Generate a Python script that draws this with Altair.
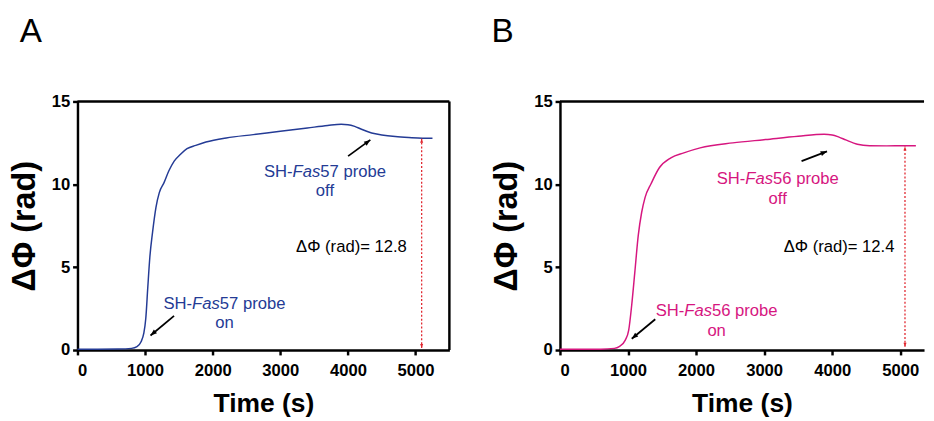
import altair as alt
import pandas as pd
import math

# ---------------- data ----------------
A_time = [0, 300, 600, 800, 880, 940, 980, 1010, 1040, 1070, 1110, 1160, 1210, 1280, 1350,
          1430, 1520, 1620, 1750, 1900, 2200, 2600, 3000, 3400, 3700, 3900, 4000, 4100, 4200,
          4350, 4500, 4700, 4900, 5100, 5250]
A_phase = [0.05, 0.05, 0.06, 0.1, 0.2, 0.5, 1.0, 1.9, 3.8, 5.6, 7.1, 8.6, 9.5, 10.1, 10.8,
           11.4, 11.8, 12.15, 12.35, 12.55, 12.8, 13.0, 13.2, 13.4, 13.55, 13.62, 13.6, 13.5, 13.32,
           13.1, 12.98, 12.88, 12.82, 12.78, 12.78]

B_time = [0, 300, 600, 800, 870, 960, 1010, 1055, 1100, 1150, 1200, 1250, 1340, 1460, 1630,
          1820, 2060, 2540, 3020, 3500, 3880, 4000, 4100, 4200, 4370, 4550, 4800, 5050, 5230]
B_phase = [0.05, 0.05, 0.05, 0.1, 0.2, 0.6, 1.2, 2.75, 4.7, 6.9, 8.3, 9.2, 10.05, 11.0, 11.6,
           11.9, 12.2, 12.5, 12.7, 12.9, 13.02, 12.98, 12.85, 12.68, 12.42, 12.33, 12.32, 12.33, 12.33]

x_ticks = [0, 1000, 2000, 3000, 4000, 5000]
y_ticks = [0, 5, 10, 15]

# label anchors: x centre, baseline of line 1, baseline of line 2
A_on_label = (2173, 2.5, 1.32)
A_off_label = (3660, 10.45, 9.27)
B_on_label = (2302, 2.08, 0.84)
B_off_label = (3199, 9.99, 8.81)
A_delta = (4052, 5.92, "ΔΦ (rad)= 12.8")
B_delta = (4101, 5.92, "ΔΦ (rad)= 12.4")

# black arrows: tail x, tail y, head x, head y
A_arrows = [(1428, 2.06, 1080, 0.88), (4002, 11.7, 4331, 12.68)]
B_arrows = [(1400, 1.86, 1055, 0.68), (3550, 11.4, 3924, 11.99)]

# red dotted double arrow: x, y bottom, y top
A_red = (5090, 0.12, 12.75)
B_red = (5070, 0.2, 12.28)

A_color = "#243b95"
B_color = "#d6167f"
RED = "#e0262e"
FONT = "Liberation Sans"
FS = 17
HEAD = "M0,0L-0.5,1.3L0.5,1.3Z"


def panel(t, v, color, probe, on_lab, off_lab, delta, arrows, red, xmax, width, height,
          letter, letter_dx, right_border):
    xs = alt.Scale(domain=[0, xmax], nice=False, zero=False)
    ys = alt.Scale(domain=[0, 15], nice=False)
    sx = width / xmax
    sy = height / 15.0
    xenc = alt.X("x:Q", scale=xs,
                 axis=alt.Axis(values=x_ticks, format="d", title="Time (s)",
                               labelPadding=8, titlePadding=13))
    yenc = alt.Y("y:Q", scale=ys,
                 axis=alt.Axis(values=y_ticks, title="ΔΦ (rad)", labelPadding=3,
                               titlePadding=10, titleFontSize=33))

    curve = alt.Chart(pd.DataFrame({"x": t, "y": v})).mark_line(
        color=color, strokeWidth=1.5, interpolate="monotone").encode(x=xenc, y=yenc)

    layers = [curve]

    # frame lines (top, optionally right)
    layers.append(alt.Chart(pd.DataFrame({"y": [15]})).mark_rule(
        color="black", strokeWidth=2.5).encode(y=alt.Y("y:Q", scale=ys)))
    if right_border:
        layers.append(alt.Chart(pd.DataFrame({"x": [xmax]})).mark_rule(
            color="black", strokeWidth=2.5).encode(x=alt.X("x:Q", scale=xs)))

    # multi-style labels "SH-" + italic "Fas" + "57 probe" / second line
    k = FS / 17.0
    for (lx, ly1, ly2), second in ((on_lab, "on"), (off_lab, "off")):
        d1 = pd.DataFrame({"x": [lx], "y": [ly1]})
        base = dict(font=FONT, fontSize=FS, color=color, baseline="alphabetic")
        layers.append(alt.Chart(d1).mark_text(text="SH-", align="right", dx=-33.05 * k, **base)
                      .encode(x=alt.X("x:Q", scale=xs), y=alt.Y("y:Q", scale=ys)))
        layers.append(alt.Chart(d1).mark_text(text="Fas", align="left", dx=-33.05 * k,
                                              fontStyle="italic", **base)
                      .encode(x=alt.X("x:Q", scale=xs), y=alt.Y("y:Q", scale=ys)))
        layers.append(alt.Chart(d1).mark_text(text=probe + " probe", align="left", dx=-4.75 * k, **base)
                      .encode(x=alt.X("x:Q", scale=xs), y=alt.Y("y:Q", scale=ys)))
        d2 = pd.DataFrame({"x": [lx], "y": [ly2]})
        layers.append(alt.Chart(d2).mark_text(text=second, align="center", **base)
                      .encode(x=alt.X("x:Q", scale=xs), y=alt.Y("y:Q", scale=ys)))

    dd = pd.DataFrame({"x": [delta[0]], "y": [delta[1]], "t": [delta[2]]})
    layers.append(alt.Chart(dd).mark_text(font=FONT, fontSize=FS, color="black",
                                          baseline="alphabetic", align="center")
                  .encode(x=alt.X("x:Q", scale=xs), y=alt.Y("y:Q", scale=ys), text="t:N"))

    # black arrows
    ar = pd.DataFrame({
        "x": [a[0] for a in arrows], "y": [a[1] for a in arrows],
        "x2": [a[2] for a in arrows], "y2": [a[3] for a in arrows],
        "ang": [math.degrees(math.atan2((a[2] - a[0]) * sx, (a[3] - a[1]) * sy)) % 360
                for a in arrows],
    })
    layers.append(alt.Chart(ar).mark_rule(color="black", strokeWidth=1.8).encode(
        x=alt.X("x:Q", scale=xs), y=alt.Y("y:Q", scale=ys), x2="x2:Q", y2="y2:Q"))
    layers.append(alt.Chart(ar).mark_point(shape=HEAD, filled=True, color="black",
                                           size=100, opacity=1).encode(
        x=alt.X("x2:Q", scale=xs), y=alt.Y("y2:Q", scale=ys), angle=alt.Angle("ang:Q", scale=None)))

    # red dotted double arrow
    rd = pd.DataFrame({"x": [red[0]], "y": [red[1]], "y2": [red[2]]})
    layers.append(alt.Chart(rd).mark_rule(color=RED, strokeWidth=1.3, strokeDash=[2, 2]).encode(
        x=alt.X("x:Q", scale=xs), y=alt.Y("y:Q", scale=ys), y2="y2:Q"))
    rh = pd.DataFrame({"x": [red[0], red[0]], "y": [red[2], red[1]], "ang": [0, 180]})
    layers.append(alt.Chart(rh).mark_point(shape=HEAD, filled=True, color=RED,
                                           size=40, opacity=1).encode(
        x=alt.X("x:Q", scale=xs), y=alt.Y("y:Q", scale=ys), angle=alt.Angle("ang:Q", scale=None)))

    return alt.layer(*layers).properties(
        width=width, height=height,
        title=alt.TitleParams(text=letter, anchor="start", frame="group", fontSize=34,
                              font=FONT, fontWeight="normal", color="black", dx=letter_dx,
                              offset=18, baseline="alphabetic"),
    )


pA = panel(A_time, A_phase, A_color, "57", A_on_label, A_off_label, A_delta, A_arrows, A_red,
           5500, 380, 254, "A", -59, True)
pB = panel(B_time, B_phase, B_color, "56", B_on_label, B_off_label, B_delta, B_arrows, B_red,
           5350, 372, 254, "B", -70, False)

chart = alt.hconcat(pA, pB, spacing=41).properties(
    padding={"left": 1, "top": 3, "right": 0, "bottom": 0}
).configure_view(strokeWidth=0).configure_axis(
    grid=False,
    domainColor="black", domainWidth=2.5,
    tickColor="black", tickWidth=2.5, tickSize=5,
    labelFont=FONT, labelFontWeight="bold", labelFontSize=17, labelColor="black",
    titleFont=FONT, titleFontWeight="bold", titleFontSize=27, titleColor="black",
).configure_axisX(labelAngle=0)

chart.save("out.html", embed_options={"renderer": "svg", "actions": False})
